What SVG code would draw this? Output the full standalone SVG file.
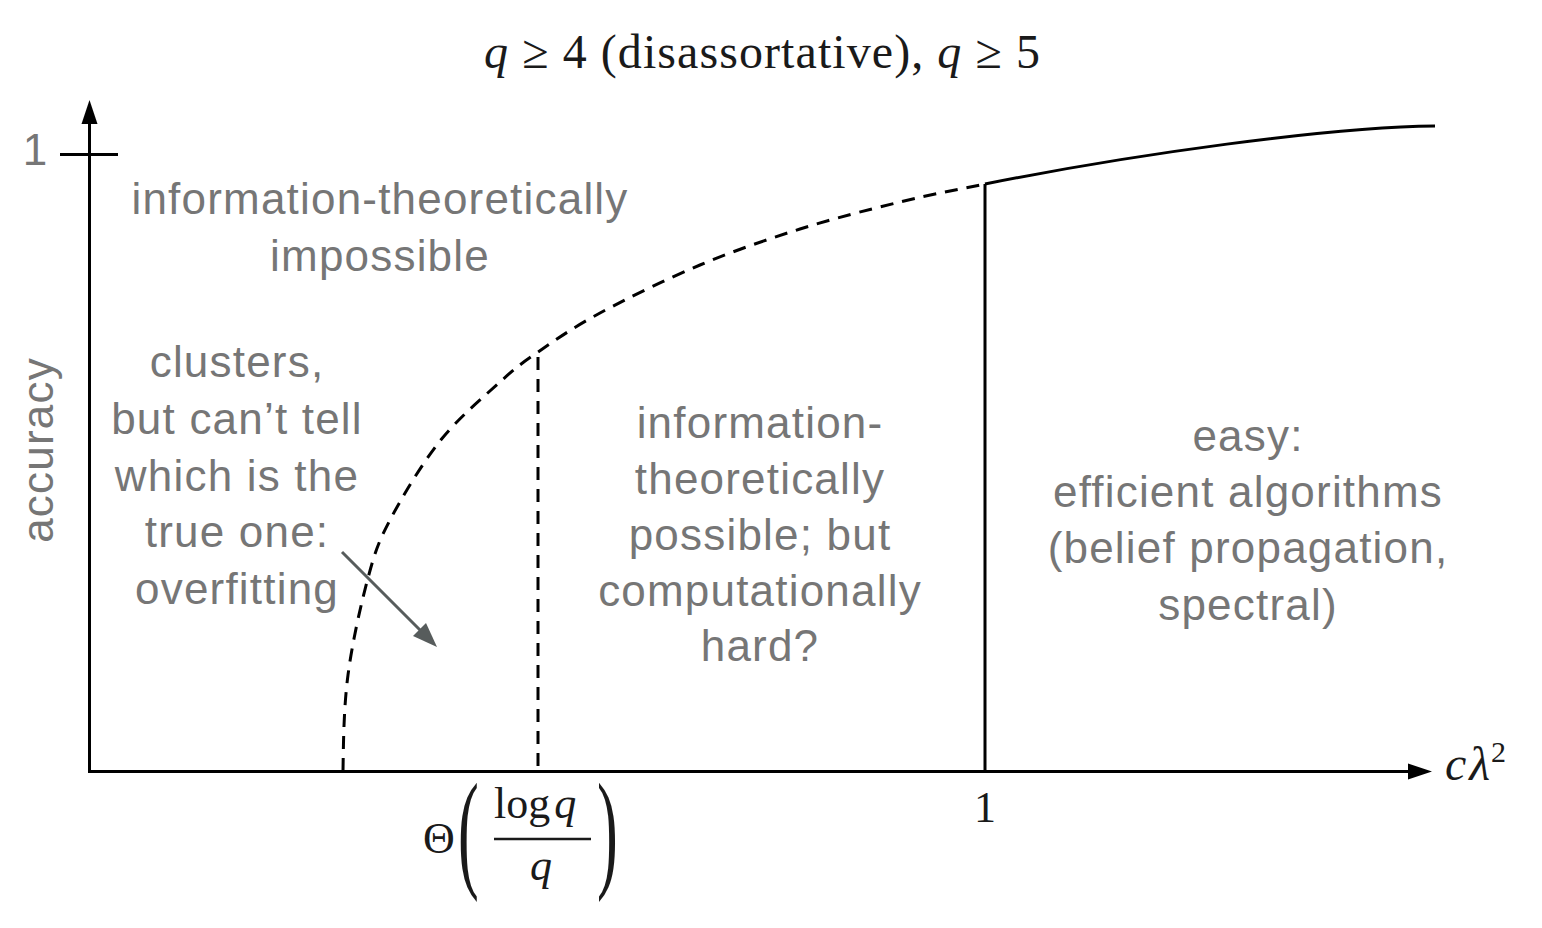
<svg xmlns="http://www.w3.org/2000/svg" width="1542" height="928" viewBox="0 0 1542 928">
<style>
.lbl{font-family:"Liberation Sans",Arial,sans-serif;font-size:44px;fill:#767676;letter-spacing:1.2px;text-anchor:middle}
.math{font-family:"Liberation Serif","Times New Roman",serif;fill:#1a1a1a}
.ax{stroke:#000;stroke-width:3;fill:none}
.dash{stroke:#000;stroke-width:3;fill:none;stroke-dasharray:13 9}
</style>
<rect width="1542" height="928" fill="#fff"/>
<g id="title">
<text class="math" x="762" y="68" text-anchor="middle" font-size="48" textLength="556" lengthAdjust="spacing"><tspan font-style="italic">q</tspan> ≥ 4 (disassortative), <tspan font-style="italic">q</tspan> ≥ 5</text>
</g>
<g id="axes">
<line class="ax" x1="89.5" y1="771.5" x2="89.5" y2="118"/>
<polygon points="89.5,100 81.5,124 97.5,124" fill="#000"/>
<line class="ax" x1="88" y1="771.5" x2="1412" y2="771.5"/>
<polygon points="1432,771.5 1408,763.5 1408,779.5" fill="#000"/>
<line class="ax" x1="60" y1="154.5" x2="118" y2="154.5"/>
<text x="35" y="165" text-anchor="middle" font-family="Liberation Sans,Arial,sans-serif" font-size="44" fill="#767676">1</text>
<text transform="translate(53,450) rotate(-90)" class="lbl" x="0" y="0">accuracy</text>
<text class="math" x="985" y="822" text-anchor="middle" font-size="44">1</text>
<text class="math" x="1445" y="780" font-size="48" font-style="italic">c<tspan dx="3">λ</tspan><tspan font-style="normal" font-size="30" dy="-18" dx="1">2</tspan></text>
</g>
<g id="theta-label">
<text class="math" x="423" y="853" font-size="44">Θ</text>
<text class="math" transform="translate(458,874) scale(1.3,2.75)" font-size="48">(</text>
<text class="math" x="494" y="818" font-size="44">log<tspan dx="4" font-style="italic">q</tspan></text>
<line x1="494" y1="839" x2="591" y2="839" stroke="#1a1a1a" stroke-width="2.5"/>
<text class="math" x="541" y="880" text-anchor="middle" font-size="44" font-style="italic">q</text>
<text class="math" transform="translate(597,874) scale(1.3,2.75)" font-size="48">)</text>
</g>
<g id="connectors">
<path class="dash" d="M343,771 C343.5,739 343.8,707.2 348,675 C352.2,642.8 361,603.8 368,578 C375,552.2 378,542.8 390,520 C402,497.2 421.7,464 440,441 C458.3,418 483.7,396.8 500,382 C516.3,367.2 521.3,363.5 538,352 C554.7,340.5 573,327.5 600,313 C627,298.5 666.7,279 700,265 C733.3,251 766.7,239.5 800,229 C833.3,218.5 869.2,209.5 900,202 C930.8,194.5 957,189.6 985,184"/>
<path class="ax" d="M985,184 C1135,154 1330,127 1435,126"/>
<line class="dash" x1="538" y1="357" x2="538" y2="771"/>
<line class="ax" x1="985" y1="184" x2="985" y2="771"/>
<line x1="342" y1="552" x2="422" y2="632" stroke="#575c5c" stroke-width="3"/>
<polygon points="437,647 413,636 426,623" fill="#575c5c"/>
</g>
<g id="region-impossible">
<text class="lbl" x="380" y="214">information-theoretically</text>
<text class="lbl" x="380" y="271">impossible</text>
</g>
<g id="region-overfitting">
<text class="lbl" x="237" y="377">clusters,</text>
<text class="lbl" x="237" y="434">but can’t tell</text>
<text class="lbl" x="237" y="491">which is the</text>
<text class="lbl" x="237" y="547">true one:</text>
<text class="lbl" x="237" y="604">overfitting</text>
</g>
<g id="region-hard">
<text class="lbl" x="760" y="438">information-</text>
<text class="lbl" x="760" y="494">theoretically</text>
<text class="lbl" x="760" y="550">possible; but</text>
<text class="lbl" x="760" y="606">computationally</text>
<text class="lbl" x="760" y="661">hard?</text>
</g>
<g id="region-easy">
<text class="lbl" x="1248" y="451">easy:</text>
<text class="lbl" x="1248" y="507">efficient algorithms</text>
<text class="lbl" x="1248" y="563">(belief propagation,</text>
<text class="lbl" x="1248" y="620">spectral)</text>
</g>
</svg>
